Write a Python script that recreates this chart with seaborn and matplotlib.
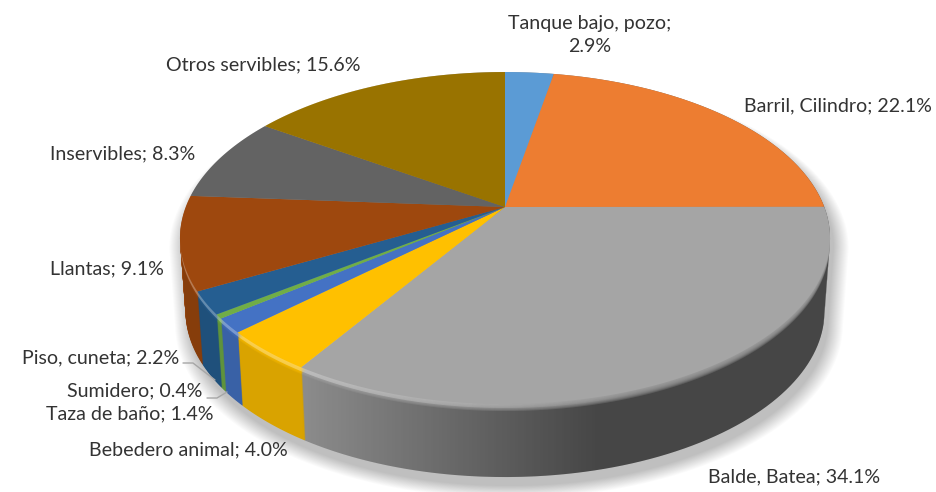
import numpy as np
import seaborn as sns
import matplotlib.pyplot as plt
from matplotlib.path import Path
from matplotlib.patches import PathPatch
from matplotlib.transforms import Transform, Affine2D

# data, clockwise from the top
categories = ['Tanque bajo, pozo', 'Barril, Cilindro', 'Balde, Batea', 'Bebedero animal', 'Taza de baño',
              'Sumidero', 'Piso, cuneta', 'Llantas', 'Inservibles', 'Otros servibles']
values = [2.9, 22.1, 34.1, 4.0, 1.4, 0.4, 2.2, 9.1, 8.3, 15.6]
hex_colors = ['#5B9BD5', '#ED7D31', '#A5A5A5', '#FFC000', '#4472C4',
              '#70AD47', '#255E91', '#9E480E', '#636363', '#997300']

# label centres in pixels
label_x = [590, 838, 794, 188, 130, 135, 101, 107, 123, 263]
label_y = [35, 106, 477, 450, 414, 391, 358, 269, 154, 65]

# pie geometry in pixels
APEX = (505, 207)
RX = 319.3
RY = 160.2
TILT = 0.187
DEPTH = 73
SHRINK = 0.017  # the bottom rim is a bit narrower than the top one

sns.set_theme(style='white')
plt.rcParams['font.family'] = ['Lato', 'DejaVu Sans']


class Persp(Transform):
    # maps the unit pie to screen pixels with a perspective tilt
    input_dims = 2
    output_dims = 2

    def __init__(self, dy=0):
        super().__init__()
        self.dy = dy

    def transform_non_affine(self, xy):
        xy = np.asarray(xy)
        w = 1 + TILT * xy[:, 1]
        s = 1 - SHRINK * self.dy / DEPTH
        return np.column_stack([APEX[0] + s * RX * xy[:, 0] / w,
                                APEX[1] + self.dy - RY * xy[:, 1] / w])

    def transform_path_non_affine(self, path):
        # flatten the arcs first, the bezier control points do not survive the tilt
        polys = path.to_polygons(Affine2D().scale(3000), closed_only=False)
        return Path(self.transform_non_affine(polys[0] / 3000))


fig = plt.figure(figsize=(9.36, 4.92), dpi=100)
ax = fig.add_axes([0, 0, 1, 1])


def draw_pie(dy, colors, zorder, alpha=None):
    wedges, _ = ax.pie(values, colors=colors, startangle=90, counterclock=False)
    for w in wedges:
        w.set_transform(Persp(dy) + ax.transData)
        w.set_zorder(zorder)
        w.set_linewidth(0)
        if alpha is not None:
            w.set_alpha(alpha)


def outline(dy):
    # upper half of the top rim joined to the lower half of the rim at dy
    t = np.linspace(0, 2 * np.pi, 721)
    circle = np.column_stack([np.cos(t), np.sin(t)])
    rim = Persp().transform_non_affine(circle)
    low = Persp(dy).transform_non_affine(circle)
    mid_y = rim[np.argmin(rim[:, 0]), 1]
    top = rim[rim[:, 1] <= mid_y]
    top = top[np.argsort(top[:, 0])]
    bottom = low[low[:, 1] > mid_y + dy]
    bottom = bottom[np.argsort(-bottom[:, 0])]
    return np.vstack([top, bottom])


palette = sns.color_palette(hex_colors)
body = outline(DEPTH)

# soft shadow under the body
for i in range(16):
    s = 1 + i * 0.003
    shadow = np.column_stack([APEX[0] + 4 + (body[:, 0] - APEX[0]) * s,
                              APEX[1] + 9 + (body[:, 1] - APEX[1]) * s])
    ax.fill(shadow[:, 0], shadow[:, 1], color='black', alpha=0.014, lw=0, zorder=0)

# side wall: stacked pies, the top one is added last
for d in range(DEPTH, 0, -1):
    draw_pie(d, palette, 1)

# horizontal shading of the wall
gx = np.linspace(0, 936, 468)
shade = np.zeros((1, gx.size, 4))
shade[0, :, 3] = np.interp(gx, [300, 600], [0.15, 0.58])
img = ax.imshow(shade, extent=(0, 936, 492, 0), aspect='auto', zorder=2, interpolation='bilinear')
img.set_clip_path(PathPatch(Path(body), transform=ax.transData))

# bevel between wall and top face
for d in range(7, 0, -1):
    draw_pie(d, palette, 3, alpha=0.25)

# the bevel catches light on the left side only
glow = np.ones((1, gx.size, 4))
glow[0, :, 3] = np.interp(gx, [300, 650], [0.3, 0.0])
img2 = ax.imshow(glow, extent=(0, 936, 492, 0), aspect='auto', zorder=3.5, interpolation='bilinear')
img2.set_clip_path(PathPatch(Path(outline(4)), transform=ax.transData))

draw_pie(0, palette, 4)

ax.set_aspect('auto')
ax.set_xlim(0, 936)
ax.set_ylim(492, 0)
ax.axis('off')

# leader lines
ax.plot([183, 193, 215], [363, 363, 380], color='#a6a6a6', lw=1, zorder=5)
ax.plot([207, 217, 227], [398, 398, 392], color='#a6a6a6', lw=1, zorder=5)

for i, cat in enumerate(categories):
    sep = ';\n' if i == 0 else '; '
    ax.text(label_x[i], label_y[i], f'{cat}{sep}{values[i]:.1f}%', ha='center', va='center',
            fontsize=14.1, color='#333333', linespacing=1.45, zorder=6)

fig.savefig('out.png', dpi=100, facecolor='white')
plt.close(fig)
